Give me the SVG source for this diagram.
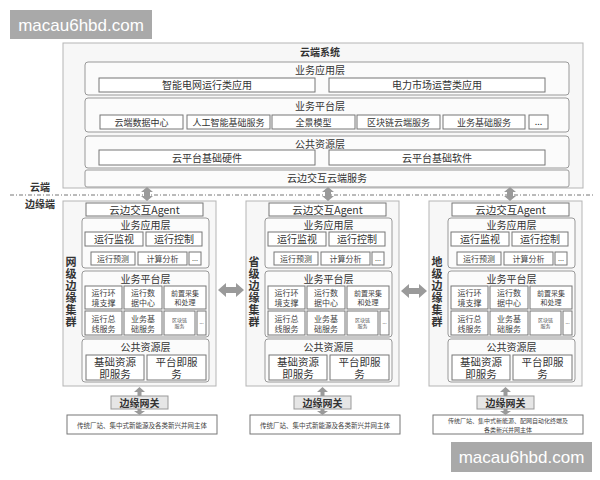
<svg xmlns="http://www.w3.org/2000/svg" width="600" height="480" viewBox="0 0 600 480">
<style>
text{font-family:"Noto Sans CJK SC","Noto Sans",sans-serif;fill:#333;text-anchor:middle}
.outer{fill:#f7f7f7;stroke:#b5b5b5;stroke-width:1}
.layer{fill:#fbfbfb;stroke:#999;stroke-width:1}
.box{fill:#fff;stroke:#777;stroke-width:1}
.gw{fill:#e6e6e6;stroke:#999;stroke-width:1}
.t10{font-size:10px}
.t9{font-size:9px}
.t8{font-size:8px;fill:#444}
.t7{font-size:7px;fill:#444}
.t5{font-size:5px;fill:#555}
.b{font-weight:bold}
.vl{font-size:11px;font-weight:bold;writing-mode:vertical-rl;letter-spacing:1px}
.arr{fill:#9a9a9a}
.wm{fill:#a9a9a9}
.wmt{font-family:"Liberation Sans",Arial,sans-serif;font-size:17px;fill:#fff}
</style>
<rect width="600" height="480" fill="#fff"/>

<g id="watermark-top">
<rect class="wm" x="10" y="10" width="142" height="29"/>
<text class="wmt" x="81" y="31">macau6hbd.com</text>
</g>

<g id="cloud-system">
<rect class="outer" x="63" y="43" width="520" height="145"/>
<text class="t10 b" x="320" y="56">云端系统</text>
<g id="cloud-app-layer">
<rect class="layer" x="85" y="62" width="484" height="33" rx="3"/>
<text class="t10" x="320" y="74">业务应用层</text>
<rect class="box" x="99" y="78" width="216" height="14"/>
<text class="t10" x="207" y="89">智能电网运行类应用</text>
<rect class="box" x="329" y="78" width="216" height="14"/>
<text class="t10" x="437" y="89">电力市场运营类应用</text>
</g>
<g id="cloud-platform-layer">
<rect class="layer" x="85" y="98" width="484" height="34" rx="3"/>
<text class="t10" x="320" y="110">业务平台层</text>
<rect class="box" x="100" y="115" width="83" height="14"/>
<text class="t9" x="141.5" y="125.5">云端数据中心</text>
<rect class="box" x="187" y="115" width="83" height="14"/>
<text class="t9" x="228.5" y="125.5">人工智能基础服务</text>
<rect class="box" x="272" y="115" width="83" height="14"/>
<text class="t9" x="313.5" y="125.5">全景模型</text>
<rect class="box" x="357" y="115" width="83" height="14"/>
<text class="t9" x="398.5" y="125.5">区块链云端服务</text>
<rect class="box" x="443" y="115" width="82" height="14"/>
<text class="t9" x="484" y="125.5">业务基础服务</text>
<rect class="box" x="529" y="115" width="19" height="14"/>
<text class="t9" x="538.5" y="124.5">...</text>
</g>
<g id="cloud-resource-layer">
<rect class="layer" x="85" y="136" width="484" height="32" rx="3"/>
<text class="t10" x="320" y="147.5">公共资源层</text>
<rect class="box" x="99" y="150" width="216" height="15"/>
<text class="t10" x="207" y="161.5">云平台基础硬件</text>
<rect class="box" x="329" y="150" width="216" height="15"/>
<text class="t10" x="437" y="161.5">云平台基础软件</text>
</g>
<g id="cloud-edge-service">
<rect class="layer" x="85" y="170" width="484" height="17" rx="2"/>
<text class="t10" x="327" y="182">云边交互云端服务</text>
</g>
</g>

<g id="divider">
<line x1="10" y1="195" x2="595" y2="195" stroke="#777" stroke-width="1" stroke-dasharray="4,2,1,2"/>
<text class="t10 b" x="40" y="191">云端</text>
<text class="t10 b" x="40" y="208">边缘端</text>
</g>

<defs>
<g id="cluster">
<rect class="outer" x="63" y="201" width="153" height="185"/>
<rect class="box" x="86" y="203" width="117" height="13"/>
<text x="144.5" y="213.5" style="font-size:10.5px">云边交互Agent</text>
<rect class="layer" x="82" y="218" width="127" height="50" rx="3"/>
<text class="t10" x="145.5" y="228.5">业务应用层</text>
<rect class="box" x="85" y="232" width="58" height="14"/>
<text class="t10" x="114" y="243">运行监视</text>
<rect class="box" x="146" y="232" width="56" height="14"/>
<text class="t10" x="174" y="243">运行控制</text>
<rect class="box" x="91" y="252" width="44" height="13"/>
<text class="t8" x="113" y="261.5">运行预测</text>
<rect class="box" x="138" y="252" width="49" height="13"/>
<text class="t8" x="162.5" y="261.5">计算分析</text>
<rect class="box" x="189" y="252" width="12" height="13"/>
<text class="t7" x="195" y="261">...</text>
<rect class="layer" x="82" y="271" width="127" height="66" rx="3"/>
<text class="t10" x="145.5" y="283">业务平台层</text>
<rect class="box" x="85" y="286" width="37" height="23"/>
<text class="t8" x="103.5" y="296">运行环</text>
<text class="t8" x="103.5" y="306">境支撑</text>
<rect class="box" x="124" y="286" width="38" height="23"/>
<text class="t8" x="143" y="296">运行数</text>
<text class="t8" x="143" y="306">据中心</text>
<rect class="box" x="164" y="286" width="42" height="23"/>
<text class="t7" x="185" y="296">前置采集</text>
<text class="t7" x="185" y="305">和处理</text>
<rect class="box" x="85" y="311" width="37" height="24"/>
<text class="t8" x="103.5" y="321.5">运行总</text>
<text class="t8" x="103.5" y="331.5">线服务</text>
<rect class="box" x="124" y="311" width="38" height="24"/>
<text class="t8" x="143" y="321.5">业务基</text>
<text class="t8" x="143" y="331.5">础服务</text>
<rect class="box" x="164" y="311" width="31" height="24"/>
<text class="t5" x="179.5" y="322">区块链</text>
<text class="t5" x="179.5" y="328">服务</text>
<rect class="box" x="197" y="311" width="9" height="24"/>
<text class="t5" x="201.5" y="324">...</text>
<rect class="layer" x="82" y="339" width="127" height="43" rx="3"/>
<text class="t10" x="145.5" y="350.5">公共资源层</text>
<rect class="box" x="86" y="355" width="58" height="25"/>
<text x="115" y="366" style="font-size:10.5px">基础资源</text>
<text x="115" y="377.5" style="font-size:10.5px">即服务</text>
<rect class="box" x="147" y="355" width="59" height="25"/>
<text x="176.5" y="366" style="font-size:10.5px">平台即服</text>
<text x="176.5" y="377.5" style="font-size:10.5px">务</text>
<rect class="gw" x="111" y="396" width="57" height="13"/>
<text class="t10 b" x="139.5" y="406.5">边缘网关</text>
<rect class="box" x="67" y="415" width="150" height="19"/>
</g>
</defs>

<g id="cluster-wangji">
<use href="#cluster"/>
<text class="vl" x="71" y="292">网级边缘集群</text>
<text class="t7" x="142" y="427.5" style="font-size:6.5px">传统厂站、集中式新能源及各类新兴并网主体</text>
</g>

<g id="cluster-shengji" transform="translate(183,0)">
<use href="#cluster"/>
<text class="vl" x="71" y="292">省级边缘集群</text>
<text class="t7" x="142" y="427.5" style="font-size:6.5px">传统厂站、集中式新能源及各类新兴并网主体</text>
</g>

<g id="cluster-diji" transform="translate(366,0)">
<use href="#cluster"/>
<text class="vl" x="71" y="292">地级边缘集群</text>
<text class="t7" x="142" y="422.5" style="font-size:6px">传统厂站、集中式新能源、配网自动化终端及</text>
<text class="t7" x="142" y="431.5" style="font-size:6px">各类新兴并网主体</text>
</g>

<g id="connectors">
<polygon class="arr" points="147,187 153,192 150,192 150,196 153,196 147,201 141,196 144,196 144,192 141,192"/>
<polygon class="arr" points="328,187 334,192 331,192 331,196 334,196 328,201 322,196 325,196 325,192 322,192"/>
<polygon class="arr" points="510,187 516,192 513,192 513,196 516,196 510,201 504,196 507,196 507,192 504,192"/>
<polygon class="arr" points="218,290 226,283 226,287 236,287 236,283 244,290 236,297 236,293 226,293 226,297"/>
<polygon class="arr" points="401,291 409,284 409,288 419,288 419,284 427,291 419,298 419,294 409,294 409,298"/>
<polygon class="arr" points="139.5,387 145,392 141.5,392 141.5,396 137.5,396 137.5,392 134,392"/>
<polygon class="arr" points="137.5,409 141.5,409 141.5,411 145,411 139.5,415 134,411 137.5,411"/>
<polygon class="arr" points="322.5,387 328,392 324.5,392 324.5,396 320.5,396 320.5,392 317,392"/>
<polygon class="arr" points="320.5,409 324.5,409 324.5,411 328,411 322.5,415 317,411 320.5,411"/>
<polygon class="arr" points="505.5,387 511,392 507.5,392 507.5,396 503.5,396 503.5,392 500,392"/>
<polygon class="arr" points="503.5,409 507.5,409 507.5,411 511,411 505.5,415 500,411 503.5,411"/>
</g>

<g id="watermark-bottom">
<rect class="wm" x="451" y="442" width="141" height="30"/>
<text class="wmt" x="521.5" y="463">macau6hbd.com</text>
</g>
</svg>
